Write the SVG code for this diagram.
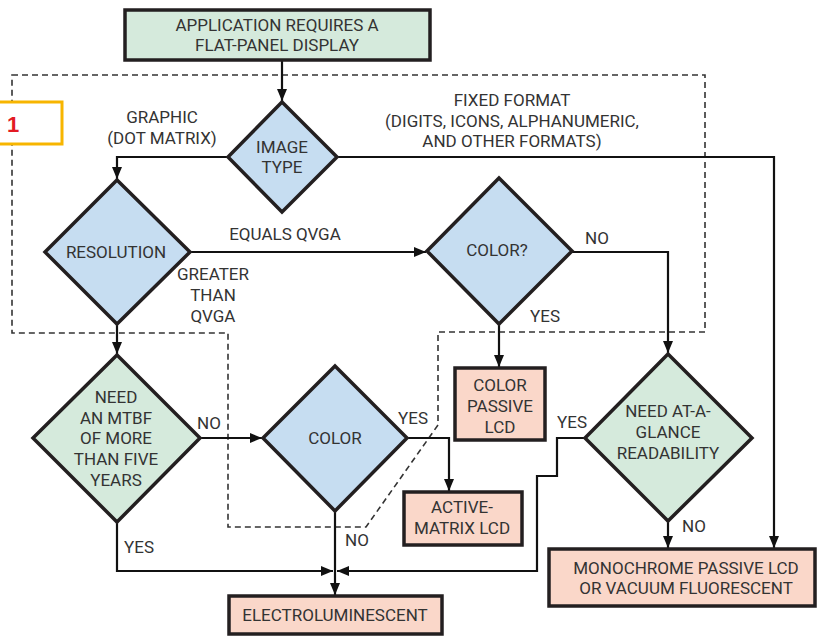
<svg xmlns="http://www.w3.org/2000/svg" width="817" height="639" viewBox="0 0 817 639">
<style>
text{font-family:Roboto,"Liberation Sans",sans-serif;font-size:17px;fill:#333;text-anchor:middle;dominant-baseline:central}
.blue{fill:#c6ddf1;stroke:#231f20;stroke-width:3.5;stroke-linejoin:miter}
.green{fill:#d5eadc;stroke:#231f20;stroke-width:3.5}
.out{fill:#fad7c9;stroke:#231f20;stroke-width:3.5}
.con{fill:none;stroke:#111;stroke-width:2.2}
.dash{fill:none;stroke:#333;stroke-width:1.6;stroke-dasharray:6 4}
</style>
<defs>
<marker id="ah" viewBox="0 0 12 10" refX="12" refY="5" markerWidth="12" markerHeight="10" markerUnits="userSpaceOnUse" orient="auto">
<path d="M0,0 L12,5 L0,10 Z" fill="#111"/>
</marker>
</defs>
<rect width="817" height="639" fill="#fff"/>
<g id="boundary">
<path class="dash" d="M12,75 H705 V332 H438 V425 L366,527 H228 V333 H12 Z"/>
</g>
<g id="figlabel">
<rect x="-5" y="102" width="67" height="42" fill="#fff" stroke="#f7b500" stroke-width="3"/>
<text x="13" y="124" style="font-family:'Liberation Sans',sans-serif;font-weight:bold;font-size:22px;fill:#e31b23">1</text>
</g>
<g id="connectors">
<path class="con" d="M282,60 V101" marker-end="url(#ah)"/>
<path class="con" d="M228,157 H117 V179" marker-end="url(#ah)"/>
<path class="con" d="M337,157 H774 V548" marker-end="url(#ah)"/>
<path class="con" d="M190,252 H426" marker-end="url(#ah)"/>
<path class="con" d="M572,252 H668 V353" marker-end="url(#ah)"/>
<path class="con" d="M499,324 V367" marker-end="url(#ah)"/>
<path class="con" d="M117,324 V354" marker-end="url(#ah)"/>
<path class="con" d="M200,438 H262" marker-end="url(#ah)"/>
<path class="con" d="M407,438 H449 V491" marker-end="url(#ah)"/>
<path class="con" d="M335,511 V595" marker-end="url(#ah)"/>
<path class="con" d="M117,522 V571 H333" marker-end="url(#ah)"/>
<path class="con" d="M585,438 H557 V476 H537 V571 H337" marker-end="url(#ah)"/>
<path class="con" d="M668,521 V548" marker-end="url(#ah)"/>
</g>
<g id="labels">
<text x="162" y="117">GRAPHIC</text>
<text x="162" y="138">(DOT MATRIX)</text>
<text x="512" y="100">FIXED FORMAT</text>
<text x="512" y="121">(DIGITS, ICONS, ALPHANUMERIC,</text>
<text x="512" y="141">AND OTHER FORMATS)</text>
<text x="285" y="234">EQUALS QVGA</text>
<text x="213" y="274">GREATER</text>
<text x="213" y="295">THAN</text>
<text x="213" y="316">QVGA</text>
<text x="597" y="238">NO</text>
<text x="545" y="316">YES</text>
<text x="209" y="423">NO</text>
<text x="413" y="418">YES</text>
<text x="357" y="540">NO</text>
<text x="139" y="547">YES</text>
<text x="572" y="422">YES</text>
<text x="694" y="526">NO</text>
</g>
<g id="start">
<rect class="green" x="125" y="10" width="305" height="50"/>
<text x="277" y="25">APPLICATION REQUIRES A</text>
<text x="277" y="45">FLAT-PANEL DISPLAY</text>
</g>
<g id="imagetype">
<path class="blue" d="M282,102 L337,157 L282,212 L228,157 Z"/>
<text x="282" y="147">IMAGE</text>
<text x="282" y="167">TYPE</text>
</g>
<g id="resolution">
<path class="blue" d="M117,180 L190,252 L117,324 L45,252 Z"/>
<text x="116" y="252">RESOLUTION</text>
</g>
<g id="colorq">
<path class="blue" d="M499,178 L572,251 L499,324 L427,251 Z"/>
<text x="497" y="250">COLOR?</text>
</g>
<g id="mtbf">
<path class="green" d="M117,355 L200,438 L117,522 L33,438 Z"/>
<text x="116" y="397">NEED</text>
<text x="116" y="418">AN MTBF</text>
<text x="116" y="438">OF MORE</text>
<text x="116" y="459">THAN FIVE</text>
<text x="116" y="480">YEARS</text>
</g>
<g id="color">
<path class="blue" d="M335,366 L407,438 L335,511 L263,438 Z"/>
<text x="335" y="438">COLOR</text>
</g>
<g id="glance">
<path class="green" d="M668,354 L752,438 L668,521 L585,438 Z"/>
<text x="668" y="411">NEED AT-A-</text>
<text x="668" y="432">GLANCE</text>
<text x="668" y="453">READABILITY</text>
</g>
<g id="colorpassive">
<rect class="out" x="455" y="368" width="90" height="72"/>
<text x="500" y="385">COLOR</text>
<text x="500" y="406">PASSIVE</text>
<text x="500" y="427">LCD</text>
</g>
<g id="activematrix">
<rect class="out" x="404" y="492" width="118" height="53"/>
<text x="462" y="507">ACTIVE-</text>
<text x="462" y="528">MATRIX LCD</text>
</g>
<g id="electro">
<rect class="out" x="229" y="596" width="213" height="38"/>
<text x="335" y="615">ELECTROLUMINESCENT</text>
</g>
<g id="mono">
<rect class="out" x="549" y="549" width="266" height="57"/>
<text x="686" y="568">MONOCHROME PASSIVE LCD</text>
<text x="686" y="588">OR VACUUM FLUORESCENT</text>
</g>
</svg>
